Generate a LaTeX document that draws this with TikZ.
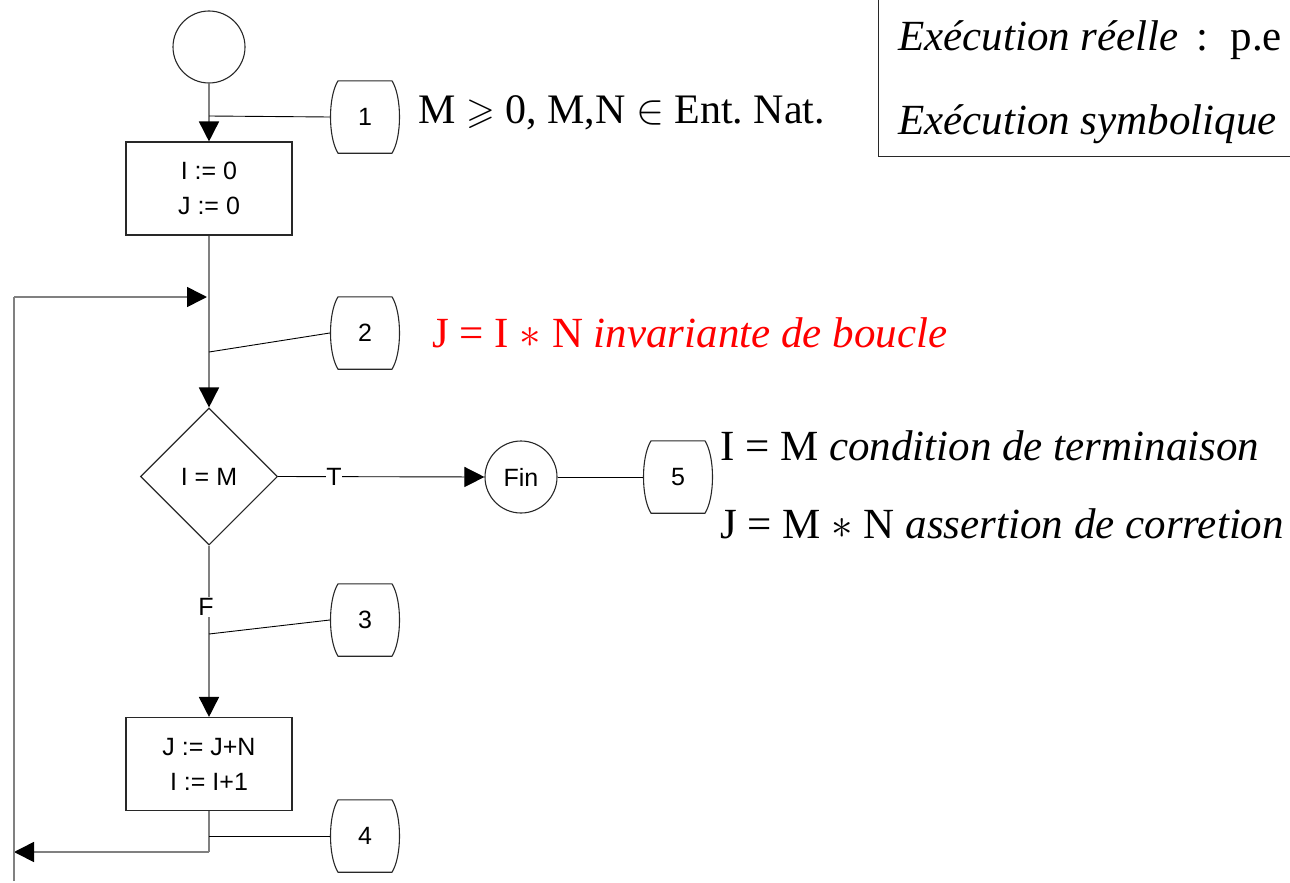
\RequirePackage{fix-cm}
\documentclass[tikz,border=0pt]{standalone}
\usepackage{amssymb}
\usepackage{fontspec}
\setmainfont{Liberation Serif}
\newfontfamily\arial{Liberation Sans}
\usetikzlibrary{arrows.meta,shapes.geometric}
\frenchspacing

\definecolor{flowgray}{RGB}{128,128,128}
\definecolor{edgegray}{RGB}{40,40,40}

\tikzset{
  flow/.style={draw=flowgray, line width=1.6pt},
  tip/.style={-{Triangle[length=20pt,width=20pt,color=black]}},
  lead/.style={draw=black, line width=0.9pt},
  sans/.style={font=\arial\fontsize{25}{35}\selectfont},
  stmt/.style={sans, draw=edgegray, line width=1.1pt, rectangle,
    minimum width=166pt, minimum height=93pt, align=center, inner sep=0pt},
  term/.style={sans, draw=edgegray, line width=1.1pt, circle,
    minimum size=72pt, inner sep=0pt},
  test/.style={sans, draw=edgegray, line width=1.1pt, diamond, aspect=1,
    minimum width=137pt, minimum height=137pt, inner sep=0pt},
  tagtext/.style={sans, minimum width=70pt, minimum height=72pt, inner sep=0pt},
  tagline/.style={draw=edgegray, line width=1.1pt},
  big/.style={font=\fontsize{43}{50}\selectfont, anchor=base west, inner sep=0pt},
  cut/.style={sans, fill=white, inner sep=1.5pt},
}

% numbered assertion tag: straight top and bottom, bulging sides
\newcommand\assertag[3]{%
  \node[tagtext] (#1) at (#2) {#3};
  \draw[tagline] ([xshift=-27pt]#1.north) -- ([xshift=27pt]#1.north)
    .. controls ([xshift=37pt,yshift=-16pt]#1.north) and ([xshift=37pt,yshift=16pt]#1.south)
    .. ([xshift=27pt]#1.south) -- ([xshift=-27pt]#1.south)
    .. controls ([xshift=-37pt,yshift=16pt]#1.south) and ([xshift=-37pt,yshift=-16pt]#1.north)
    .. cycle;
}

\begin{document}
\begin{tikzpicture}[x=1pt, y=-1pt]
\useasboundingbox (0,0) rectangle (1290,883);

% flowchart blocks
\node[term] (start) at (209,47) {};
\node[stmt] (init) at (209,188.5) {I := 0\\J := 0};
\node[test] (cond) at (209,476.5) {I = M};
\node[term] (fin) at (521,477) {Fin};
\node[stmt] (body) at (209,764) {J := J+N\\I := I+1};

% assertion tags
\assertag{t1}{365,117}{1}
\assertag{t2}{365,333}{2}
\assertag{t3}{365,620}{3}
\assertag{t4}{365,836}{4}
\assertag{t5}{678,477}{5}

% points on the flow lines
\coordinate (p1) at (209,116);
\coordinate (p2) at (209,352);
\coordinate (p3) at (209,634);
\coordinate (p4) at (209,836);
\coordinate (merge) at (207,297);
\coordinate (corner) at (209,852);
\coordinate (backbot) at (14,852);
\coordinate (backlow) at (14,881);
\coordinate (backtop) at (14,297);

% main flow
\draw[flow, tip] (start) -- (init);
\draw[flow, tip] (init) -- (cond);
\draw[flow, tip] (cond.south) -- (body.north);
\node[cut] (flabel) at (206,607) {F};
\draw[flow] (body.south) -- (corner);
\draw[flow, tip] (corner) -- (backbot);
\draw[flow] (backlow) -- (backtop);
\draw[flow, tip] (backtop) -- (merge);
\draw[lead, tip] (cond.east) -- (fin.west);
\node[cut, inner sep=0.5pt] (tlabel) at (334,477) {T};

% tag leads
\draw[lead] (p1) -- (t1.west);
\draw[lead] (p2) -- (t2.west);
\draw[lead] (p3) -- (t3.west);
\draw[lead] (p4) -- (t4.west);
\draw[lead] (fin.east) -- (t5.west);

% assertions
\node[big, font=\fontsize{42}{50}\selectfont] (a1) at (418,123)
  {M {\fontsize{37}{40}\selectfont$\geqslant$} 0, M,N $\in$ Ent. Nat.};
\node[big, text=red] (a2) at (432,347) {J = I $\ast$ N \textit{invariante de boucle}};
\node[big] (a5a) at (720,460) {I = M \textit{condition de terminaison}};
\node[big] (a5b) at (720,538) {J = M $\ast$ N \textit{assertion de corretion}};

% framed note
\node[draw=edgegray, line width=1.1pt, anchor=south west, minimum width=440pt,
      minimum height=175pt, inner sep=0pt] (note) at (878,157) {};
\node[big] (n1) at (898,51) {\textit{Exécution réelle}\hspace{18pt}:\hspace{22pt}p.e};
\node[big] (n2) at (898,134) {\textit{Exécution symbolique}};
\end{tikzpicture}
\end{document}
